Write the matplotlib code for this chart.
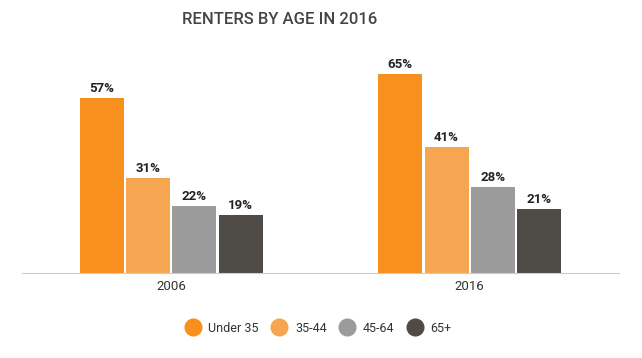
import numpy as np
import matplotlib.pyplot as plt
from matplotlib.lines import Line2D

years = ["2006", "2016"]
groups = ["Under 35", "35-44", "45-64", "65+"]
values = {
    "Under 35": [57, 65],
    "35-44": [31, 41],
    "45-64": [22, 28],
    "65+": [19, 21],
}
colors = ["#F7901E", "#F6A650", "#9B9B9B", "#4E4A45"]

plt.rcParams['font.family'] = ['Roboto', 'DejaVu Sans']

fig = plt.figure(figsize=(6.42, 3.58), dpi=100)
ax = fig.add_axes([22 / 642, 85 / 358, 597 / 642, 245 / 358])

x = np.arange(len(years))
w = 0.147
step = 0.155
for i, g in enumerate(groups):
    pos = x + (i - 1.5) * step
    bars = ax.bar(pos, values[g], w, color=colors[i], zorder=2)
    for b, v in zip(bars, values[g]):
        ax.text(b.get_x() + b.get_width() / 2, v + 1, f"{v}%", ha="center", va="bottom",
                fontsize=9.5, fontweight="bold", color="#222222")

ax.set_xlim(-0.5, 1.5)
ax.set_ylim(0, 80)
ax.set_xticks(x)
ax.set_xticklabels(years, fontsize=9.5, color="#333333")
ax.tick_params(axis="x", length=0, pad=5)
ax.set_yticks([])
for s in ["top", "left", "right"]:
    ax.spines[s].set_visible(False)
ax.spines["bottom"].set_color("#cccccc")

fig.text(280 / 642, 1 - 20 / 358, "RENTERS BY AGE IN 2016", ha="center", va="center",
         fontsize=12, fontweight="medium", color="#444444")

handles = [Line2D([], [], marker="o", linestyle="", markersize=12, color=c) for c in colors]
fig.legend(handles, groups, loc="center", bbox_to_anchor=(318 / 642, 1 - 328 / 358), ncol=4,
           frameon=False, fontsize=9, handlelength=1.3, handletextpad=0.6, columnspacing=1.0,
           labelcolor="#333333")

fig.savefig("out.png", dpi=100)
